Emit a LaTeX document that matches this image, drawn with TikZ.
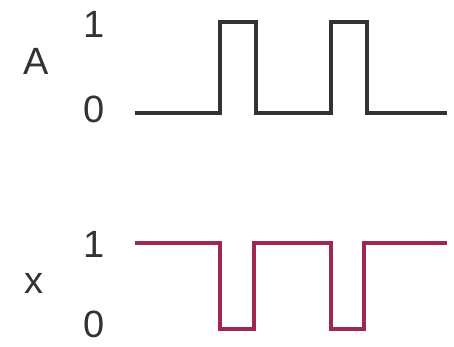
\documentclass[tikz,border=0pt]{standalone}
\usepackage{fontspec}
\setmainfont{Liberation Sans}
\definecolor{sigA}{HTML}{333333}
\definecolor{sigX}{HTML}{A0284C}
\definecolor{lbl}{HTML}{333333}
\begin{document}
\begin{tikzpicture}[x=1pt,y=-1pt,
  wave/.style={line width=4.2pt,line join=miter},
  lab/.style={text=lbl,font=\fontsize{38}{42}\selectfont,inner sep=0pt,anchor=center}]
\useasboundingbox (0,0) rectangle (454,347);
% labels
\node[lab] (A) at (36,61) {A};
\node[lab] (A1) at (94,24) {1};
\node[lab] (A0) at (94,109) {0};
\node[lab] (X) at (34,283.5) {x};
\node[lab] (X1) at (94,244) {1};
\node[lab] (X0) at (94,324) {0};
% waves
\coordinate (as) at (135,113);
\coordinate (ae) at (447,113);
\draw[wave,sigA] (as) -- (220,113) -- (220,22) -- (256,22) -- (256,113)
  -- (331,113) -- (331,22) -- (367,22) -- (367,113) -- (ae);
\coordinate (xs) at (135,243);
\coordinate (xe) at (447,243);
\draw[wave,sigX] (xs) -- (220,243) -- (220,329) -- (254,329) -- (254,243)
  -- (331,243) -- (331,329) -- (364,329) -- (364,243) -- (xe);
\end{tikzpicture}
\end{document}
